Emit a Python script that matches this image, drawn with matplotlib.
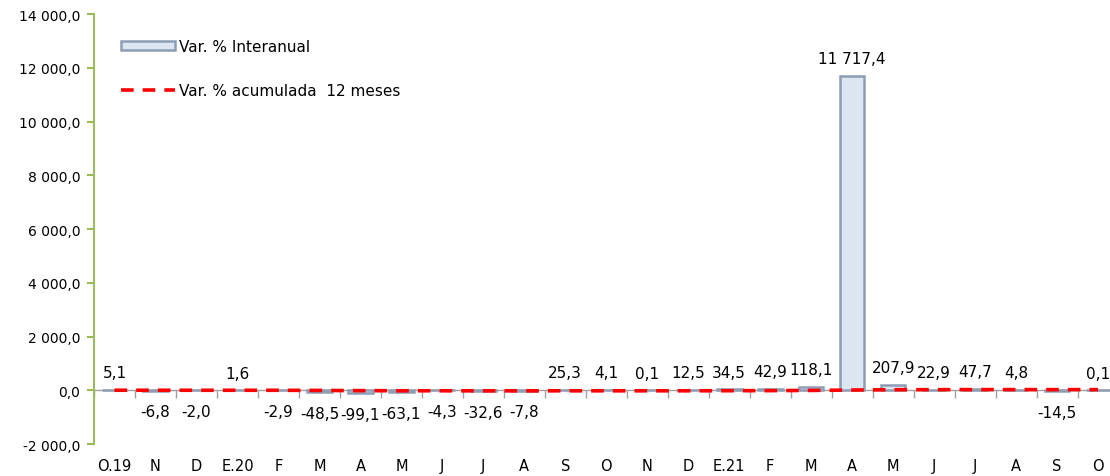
import numpy as np
import matplotlib.pyplot as plt

plt.rcParams['font.family'] = ['DejaVu Sans']

meses = ['O.19', 'N', 'D', 'E.20', 'F', 'M', 'A', 'M', 'J', 'J', 'A', 'S', 'O',
         'N', 'D', 'E.21', 'F', 'M', 'A', 'M', 'J', 'J', 'A', 'S', 'O']
var_interanual = [5.1, -6.8, -2.0, 1.6, -2.9, -48.5, -99.1, -63.1, -4.3, -32.6, -7.8,
                  25.3, 4.1, 0.1, 12.5, 34.5, 42.9, 118.1, 11717.4, 207.9, 22.9,
                  47.7, 4.8, -14.5, 0.1]
var_acumulada = [3.2, 2.5, 2.1, 2.0, 1.4, -3.5, -11.8, -16.9, -17.1, -19.4, -19.8,
                 -18.2, -18.0, -18.1, -17.2, -14.9, -11.6, -3.9, 10.5, 22.8, 24.1,
                 26.3, 26.4, 24.9, 24.9]
yticks = np.arange(-2000, 14001, 2000)


def fmt(v):
    s = f"{v:,.1f}"
    return s.replace(',', ' ').replace('.', ',')


fig = plt.figure(figsize=(11.1, 4.77), dpi=100)
ax = fig.add_axes([0.0847, 0.067, 0.923, 0.901])

x = np.arange(len(meses))
ax.bar(x, var_interanual, width=0.6, color='#dce6f2', edgecolor='#8c9db5',
       linewidth=1.8, label='Var. % Interanual', zorder=2)
ax.plot(x, var_acumulada, color='#ff0000', linestyle=(0, (3.5, 2.5)), linewidth=2.6,
        label='Var. % acumulada  12 meses', zorder=3)

for xi, v in zip(x, var_interanual):
    if v >= 0:
        ax.annotate(fmt(v), (xi, v), xytext=(0, 7), textcoords='offset points',
                    ha='center', va='bottom', fontsize=11)
    else:
        ax.annotate(fmt(v), (xi, min(v, 0)), xytext=(0, -10), textcoords='offset points',
                    ha='center', va='top', fontsize=11)

# eje horizontal en cero con marcas entre categorias
ax.axhline(0, color='#a0a0a0', linewidth=1.0, zorder=1)
bordes = np.arange(-0.5, len(meses), 1.0)
ax.plot(bordes, np.zeros_like(bordes), linestyle='none', marker=3, markersize=6,
        color='#a0a0a0', zorder=1)

ax.set_xlim(-0.5, len(meses) - 0.5)
ax.set_ylim(-2000, 14000)
ax.set_xticks(x)
ax.set_xticklabels(meses, fontsize=10.5)
ax.tick_params(axis='x', length=0, pad=10)
ax.set_yticks(yticks)
ax.set_yticklabels([fmt(t) for t in yticks], fontsize=10)
ax.tick_params(axis='y', direction='out', length=5, color='#9bbb59', width=1.5, pad=5)

for s in ['top', 'right', 'bottom']:
    ax.spines[s].set_visible(False)
ax.spines['left'].set_color('#9bbb59')
ax.spines['left'].set_linewidth(1.5)

handles, labels = ax.get_legend_handles_labels()
order = [1, 0]
ax.legend([handles[i] for i in order], [labels[i] for i in order],
          loc='upper left', bbox_to_anchor=(0.013, 0.975), frameon=False,
          fontsize=11, handlelength=3.5, handleheight=0.6, labelspacing=1.9,
          handletextpad=0.3)

fig.savefig('out.png', dpi=100)
